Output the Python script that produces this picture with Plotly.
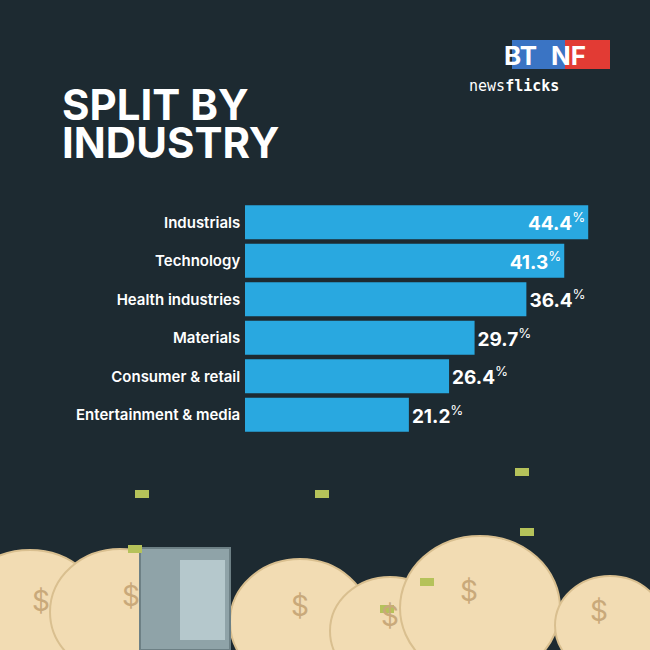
import plotly.graph_objects as go

categories = ["Industrials", "Technology", "Health industries", "Materials", "Consumer & retail", "Entertainment & media"]
values = [44.4, 41.3, 36.4, 29.7, 26.4, 21.2]
inside = [True, True, False, False, False, False]

BG = "#1d2a31"
BAR = "#29a8e0"

fig = go.Figure()
fig.add_trace(go.Bar(
    y=categories, x=values, orientation="h", marker=dict(color=BAR, line=dict(width=0)),
    text=[f"<b>{v}</b><sup>%</sup>" for v in values],
    textposition=["inside" if i else "outside" for i in inside],
    insidetextanchor="end",
    textfont=dict(color="white", size=19, family="Inter"),
    cliponaxis=False,
))
W = 650
fig.update_layout(
    width=650, height=650, margin=dict(l=0, r=0, t=0, b=0),
    paper_bgcolor=BG, plot_bgcolor=BG, showlegend=False, bargap=0.12,
    xaxis=dict(domain=[245/W, 1], range=[0, 405/7.73], visible=False),
    yaxis=dict(domain=[1-434/W, 1-203/W], autorange="reversed", showgrid=False,
               tickfont=dict(color="white", size=15, family="Inter", weight=600), ticksuffix=" ",
               showline=False, zeroline=False),
    font=dict(family="Inter"),
)
for txt, yc in [("SPLIT BY", 104), ("INDUSTRY", 143)]:
    fig.add_annotation(x=60/W, y=1-yc/W, xref="paper", yref="paper", xanchor="left", yanchor="middle",
                       text=f"<b>{txt}</b>", showarrow=False, align="left",
                       font=dict(color="white", size=42, family="Inter"))
# logo
fig.add_shape(type="rect", xref="paper", yref="paper", x0=512/W, x1=565/W, y0=1-69/W, y1=1-40/W,
              fillcolor="#3a74c4", line=dict(width=0), layer="below")
fig.add_shape(type="rect", xref="paper", yref="paper", x0=565/W, x1=610/W, y0=1-69/W, y1=1-40/W,
              fillcolor="#e23b34", line=dict(width=0), layer="below")
fig.add_annotation(x=539/W, y=1-55/W, xref="paper", yref="paper", yanchor="middle", text="<b>BT</b>", showarrow=False,
                   font=dict(color="white", size=26, family="Inter"))
fig.add_annotation(x=588/W, y=1-55/W, xref="paper", yref="paper", yanchor="middle", text="<b>NF</b>", showarrow=False,
                   font=dict(color="white", size=26, family="Inter"))
fig.add_annotation(x=561/W, y=1-86/W, xref="paper", yref="paper", yanchor="middle", text="news<b>flicks</b>", showarrow=False,
                   font=dict(color="white", size=15, family="DejaVu Sans Mono"))
# money bags decoration
bags = [(30, 610, 75), (120, 605, 70), (300, 615, 70), (390, 625, 60), (480, 600, 80), (610, 620, 55)]
for cx, cy, r in bags:
    fig.add_shape(type="circle", xref="paper", yref="paper",
                  x0=(cx-r)/W, x1=(cx+r)/W, y0=1-(cy+r)/W, y1=1-(cy-r*0.8)/W,
                  fillcolor="#f2dcb3", line=dict(color="#d9bf8f", width=2), layer="below")
    fig.add_annotation(x=cx/W, y=1-(cy+10)/W, xref="paper", yref="paper", text="$", showarrow=False,
                       font=dict(color="#c9a97a", size=28))
fig.add_shape(type="rect", xref="paper", yref="paper", x0=140/W, x1=230/W, y0=1-650/W, y1=1-548/W,
              fillcolor="#8fa3a8", line=dict(color="#6d8085", width=2))
fig.add_shape(type="rect", xref="paper", yref="paper", x0=180/W, x1=225/W, y0=1-640/W, y1=1-560/W,
              fillcolor="#b5c8cc", line=dict(width=0))
for x, y in [(135, 490), (315, 490), (515, 468), (520, 528), (128, 545), (420, 578), (380, 605)]:
    fig.add_shape(type="rect", xref="paper", yref="paper", x0=x/W, x1=(x+14)/W, y0=1-(y+8)/W, y1=1-y/W,
                  fillcolor="#b5c25a", line=dict(width=0))
fig.write_html("out.html", config={"displayModeBar": False},
               post_script="document.body.style.margin='0';")
